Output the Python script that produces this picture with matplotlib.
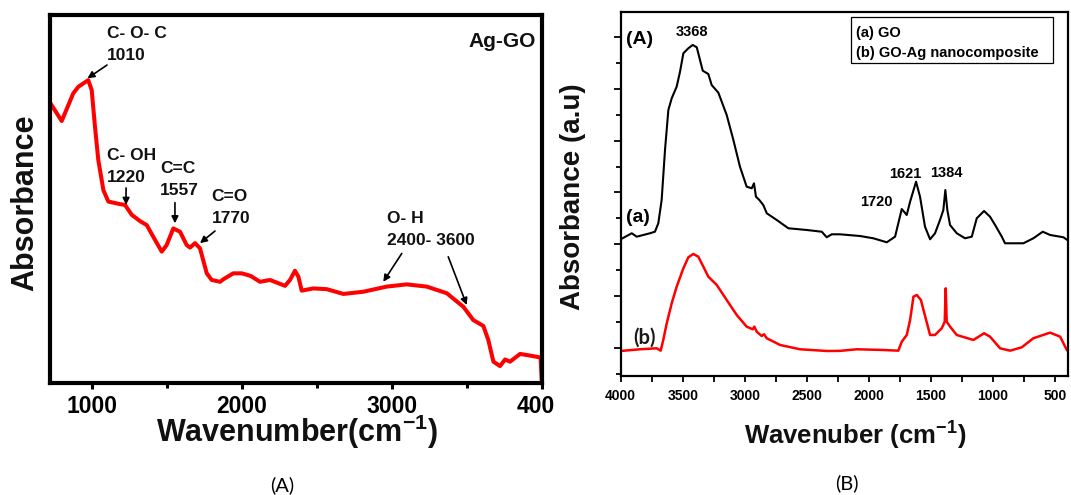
import matplotlib
matplotlib.use('Agg')
import matplotlib.pyplot as plt
from matplotlib.patches import Rectangle
from matplotlib.ticker import MultipleLocator, NullFormatter

plt.rcParams['font.family'] = ['Liberation Sans', 'DejaVu Sans']
plt.rcParams['mathtext.fontset'] = 'custom'
plt.rcParams['mathtext.rm'] = 'Liberation Sans'
plt.rcParams['mathtext.bf'] = 'Liberation Sans:bold'
plt.rcParams['mathtext.it'] = 'Liberation Sans:italic'

# ---------------- data: panel (A) Ag-GO ----------------
ag_go_wavenumber = [725, 800, 877, 911, 977, 1000, 1022, 1044, 1078, 1111, 1189, 1222,
                    1267, 1322, 1367, 1422, 1467, 1500, 1544, 1589, 1633, 1655, 1689,
                    1722, 1767, 1800, 1856, 1878, 1944, 2000, 2060, 2122, 2189, 2289,
                    2322, 2355, 2378, 2400, 2478, 2567, 2678, 2811, 2967, 3100, 3233,
                    3367, 3478, 3544, 3611, 3644, 3678, 3722, 3756, 3789, 3856, 3944,
                    3993, 4000]
ag_go_absorbance = [0.760, 0.712, 0.787, 0.805, 0.823, 0.796, 0.696, 0.606, 0.524, 0.493,
                    0.486, 0.484, 0.457, 0.440, 0.429, 0.389, 0.357, 0.375, 0.420, 0.411,
                    0.375, 0.368, 0.380, 0.366, 0.298, 0.280, 0.275, 0.282, 0.298, 0.298,
                    0.291, 0.275, 0.280, 0.264, 0.280, 0.305, 0.289, 0.251, 0.257, 0.255,
                    0.242, 0.248, 0.262, 0.268, 0.262, 0.244, 0.207, 0.171, 0.155, 0.117,
                    0.058, 0.046, 0.064, 0.058, 0.079, 0.073, 0.069, 0.008]

ag_go_labels = [("C- O- C", "1010"), ("C- OH", "1220"), ("C=C", "1557"),
                ("C=O", "1770"), ("O- H", "2400- 3600")]

# ---------------- data: panel (B) GO and GO-Ag ----------------
go_wavenumber = [4000, 3911, 3871, 3764, 3724, 3697, 3670, 3643, 3616, 3589, 3549, 3522,
                 3495, 3455, 3420, 3387, 3361, 3339, 3294, 3267, 3213, 3146, 3092, 3039,
                 2985, 2944, 2926, 2910, 2883, 2851, 2823, 2743, 2649, 2501, 2380, 2340,
                 2300, 2233, 2071, 1964, 1856, 1789, 1763, 1735, 1695, 1668, 1620, 1588,
                 1548, 1507, 1467, 1427, 1400, 1384, 1368, 1346, 1292, 1225, 1171, 1131,
                 1072, 1024, 983, 929, 903, 755, 675, 599, 540, 433, 401]
go_absorbance = [2.099, 2.215, 2.149, 2.215, 2.245, 2.407, 2.856, 3.819, 4.589, 4.814,
                 5.038, 5.326, 5.681, 5.777, 5.841, 5.796, 5.552, 5.346, 5.282, 5.070,
                 4.922, 4.493, 4.011, 3.497, 3.112, 3.081, 3.177, 2.919, 2.856, 2.759,
                 2.600, 2.471, 2.311, 2.278, 2.245, 2.138, 2.195, 2.195, 2.162, 2.118,
                 2.041, 2.149, 2.407, 2.682, 2.567, 2.823, 3.208, 2.919, 2.342, 2.099,
                 2.215, 2.471, 2.663, 3.048, 2.663, 2.374, 2.215, 2.118, 2.149, 2.503,
                 2.644, 2.534, 2.374, 2.149, 2.022, 2.022, 2.118, 2.245, 2.182, 2.138,
                 2.086]

goag_wavenumber = [4000, 3844, 3710, 3678, 3657, 3629, 3589, 3549, 3495, 3455, 3415, 3375,
                   3334, 3294, 3226, 3146, 3065, 2985, 2936, 2923, 2904, 2864, 2845, 2823,
                   2716, 2555, 2340, 2233, 2098, 1883, 1763, 1735, 1695, 1668, 1641, 1614,
                   1581, 1546, 1507, 1467, 1413, 1389, 1381, 1373, 1346, 1292, 1158, 1072,
                   1024, 943, 862, 768, 675, 540, 459, 405]
goag_absorbance = [-0.052, -0.019, 0.000, -0.046, 0.160, 0.481, 0.867, 1.186, 1.541, 1.752,
                   1.816, 1.765, 1.572, 1.379, 1.219, 0.930, 0.641, 0.417, 0.366, 0.417,
                   0.320, 0.237, 0.270, 0.193, 0.064, -0.019, -0.052, -0.050, -0.019, -0.033,
                   -0.046, 0.127, 0.256, 0.545, 0.994, 1.026, 0.930, 0.609, 0.256, 0.256,
                   0.385, 0.513, 1.155, 0.513, 0.417, 0.256, 0.160, 0.289, 0.224, 0.000,
                   -0.046, 0.019, 0.193, 0.301, 0.224, -0.033]

panel_a_ticks = [1000, 2000, 3000, 4000]
panel_b_ticks = [4000, 3500, 3000, 2500, 2000, 1500, 1000, 500]

RED = '#ff0000'
W, H = 1071, 495

fig = plt.figure(figsize=(W / 100, H / 100), dpi=100)

# ================= panel (A) =================
axA = fig.add_axes([50 / W, 1 - 383 / H, (541.7 - 50) / W, (383 - 15) / H])
axA.plot(ag_go_wavenumber, ag_go_absorbance, color=RED, lw=2.9,
         solid_joinstyle='round', solid_capstyle='round')
axA.set_xlim(722, 4000)
axA.set_ylim(0, 1)
for s in axA.spines.values():
    s.set_linewidth(3)
axA.set_yticks([])
axA.set_xticks(panel_a_ticks)
axA.set_xticklabels([str(t) for t in panel_a_ticks], fontsize=16.5, fontweight='bold')
axA.set_xticks([1500, 2500, 3500], minor=True)
axA.tick_params(axis='x', which='major', direction='out', length=4.5, width=2.2, pad=4)
axA.tick_params(axis='x', which='minor', direction='out', length=3.8, width=2.2)

ann_kw = dict(fontsize=12.5, fontweight='bold', ha='left', va='center', color='#111111')
arrow_kw = dict(arrowstyle='-|>', color='black', lw=1.2, mutation_scale=10,
                shrinkA=0, shrinkB=0)

axA.text(1102, 0.951, ag_go_labels[0][0], **ann_kw)
axA.text(1102, 0.891, ag_go_labels[0][1], **ann_kw)
axA.annotate('', xy=(972, 0.828), xytext=(1102, 0.864), arrowprops=arrow_kw)

axA.text(1100, 0.618, ag_go_labels[1][0], **ann_kw)
axA.text(1100, 0.558, ag_go_labels[1][1], **ann_kw)
axA.annotate('', xy=(1229, 0.484), xytext=(1229, 0.530), arrowprops=arrow_kw)

axA.text(1455, 0.582, ag_go_labels[2][0], **ann_kw)
axA.text(1455, 0.522, ag_go_labels[2][1], **ann_kw)
axA.annotate('', xy=(1555, 0.434), xytext=(1555, 0.490), arrowprops=arrow_kw)

axA.text(1800, 0.508, ag_go_labels[3][0], **ann_kw)
axA.text(1800, 0.448, ag_go_labels[3][1], **ann_kw)
axA.annotate('', xy=(1722, 0.380), xytext=(1822, 0.413), arrowprops=arrow_kw)

axA.text(2969, 0.446, ag_go_labels[4][0], **ann_kw)
axA.text(2969, 0.386, ag_go_labels[4][1], **ann_kw)
axA.annotate('', xy=(2944, 0.275), xytext=(3067, 0.352), arrowprops=arrow_kw)
axA.annotate('', xy=(3500, 0.212), xytext=(3377, 0.343), arrowprops=arrow_kw)

axA.text(3962, 0.929, 'Ag-GO', fontsize=15, fontweight='bold', ha='right', va='center',
         color='#111111')

# ================= panel (B) =================
axB = fig.add_axes([620.7 / W, 1 - 375.7 / H, (1067.7 - 620.7) / W, (375.7 - 12) / H])
axB.plot(go_wavenumber, go_absorbance, color='black', lw=1.5, solid_joinstyle='round')
axB.plot(goag_wavenumber, goag_absorbance, color=RED, lw=1.8, solid_joinstyle='round')
axB.set_xlim(4000, 398)
axB.set_ylim(-0.528, 6.476)
for s in axB.spines.values():
    s.set_linewidth(1.6)
axB.set_xticks(panel_b_ticks)
axB.set_xticklabels([str(t) for t in panel_b_ticks], fontsize=10, fontweight='bold')
axB.xaxis.set_minor_locator(MultipleLocator(250))
axB.yaxis.set_major_locator(MultipleLocator(1))
axB.yaxis.set_minor_locator(MultipleLocator(0.5))
axB.yaxis.set_major_formatter(NullFormatter())
axB.tick_params(axis='x', which='major', direction='out', length=4.5, width=1.3, pad=5)
axB.tick_params(axis='x', which='minor', direction='out', length=4, width=1.3)
axB.tick_params(axis='y', which='major', direction='out', length=5, width=1.3)
axB.tick_params(axis='y', which='minor', direction='out', length=3.5, width=1.3)

axB.text(3844, 5.937, '(A)', fontsize=14, fontweight='bold', ha='center', va='center')
axB.text(3425, 6.091, '3368', fontsize=10.5, fontweight='bold', ha='center', va='center')
axB.text(3861, 2.528, '(a)', fontsize=14, fontweight='bold', ha='center', va='center')
axB.text(3812, 0.198, '(b)', fontsize=14.5, family=['Lato', 'DejaVu Sans'],
         fontweight='bold', ha='center', va='center', color='#1a1a1a')
axB.text(1942, 2.817, '1720', fontsize=10.5, fontweight='bold', ha='center', va='center')
axB.text(1709, 3.356, '1621', fontsize=10.5, fontweight='bold', ha='center', va='center')
axB.text(1378, 3.376, '1384', fontsize=10.5, fontweight='bold', ha='center', va='center')

# legend box
axB.add_patch(Rectangle((0.515, 0.860), 0.452, 0.126, transform=axB.transAxes,
                        facecolor='white', edgecolor='black', lw=0.9, zorder=5))
axB.text(0.526, 0.942, '(a) GO', transform=axB.transAxes, fontsize=10.5,
         fontweight='bold', ha='left', va='center', zorder=6)
axB.text(0.526, 0.887, '(b) GO-Ag nanocomposite', transform=axB.transAxes, fontsize=10.5,
         fontweight='bold', ha='left', va='center', zorder=6)

# ================= figure-level labels =================
fig.text(25 / W, 1 - 203 / H, 'Absorbance', rotation=90, fontsize=22, fontweight='bold',
         ha='center', va='center', color='#111111')
fig.text(573.5 / W, 1 - 197 / H, 'Absorbance (a.u)', rotation=90, fontsize=20,
         fontweight='bold', ha='center', va='center', color='#111111')
fig.text(297 / W, 1 - 442 / H, r'Wavenumber(cm$^{\mathbf{-1}}$)', fontsize=22,
         fontweight='bold', ha='center', va='baseline', color='#111111')
fig.text(855 / W, 1 - 445 / H, r'Wavenuber (cm$^{\mathbf{-1}}$)', fontsize=18.5,
         fontweight='bold', ha='center', va='baseline', color='#111111')
fig.text(282 / W, 1 - 485 / H, '(A)', fontsize=14.5, family=['Lato', 'DejaVu Sans'],
         ha='center', va='center')
fig.text(847 / W, 1 - 483 / H, '(B)', fontsize=14.5, family=['Lato', 'DejaVu Sans'],
         ha='center', va='center')

# the left panel image is cropped at its right edge, cutting off the last tick label
fig.add_artist(Rectangle((554 / W, 1 - 418 / H), 24 / W, 28 / H, transform=fig.transFigure,
                         facecolor='white', edgecolor='none', zorder=20))

fig.savefig('out.png', dpi=100)
